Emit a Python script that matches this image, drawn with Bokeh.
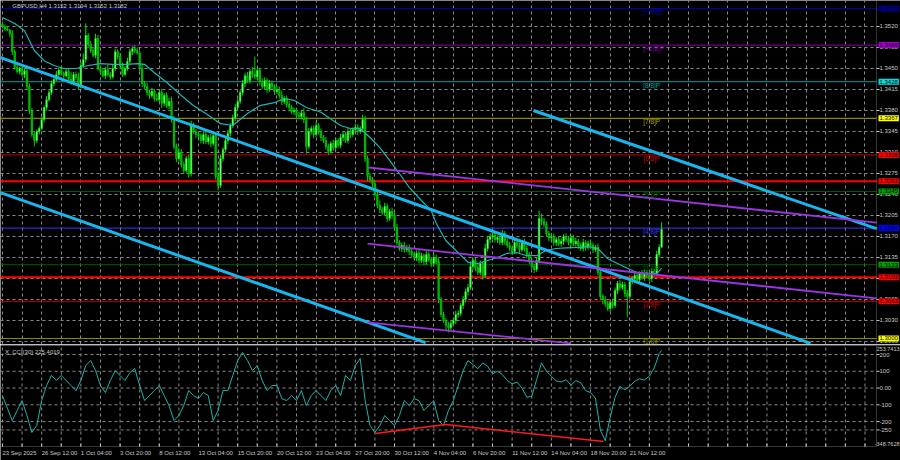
import numpy as np
from bokeh.plotting import figure
from bokeh.layouts import column
from bokeh.models import Range1d, FixedTicker, Label, ColumnDataSource, BoxAnnotation
from bokeh.core.properties import value
from bokeh.embed import file_html
from bokeh.resources import INLINE

FONT = "Liberation Sans"
BASE = 1.3000

# ---------------- price data (H4 bars, pips above 1.3000) ----------------
first_open_pips = 524
close_pips = [
    520, 516, 514, 508, 478, 452, 445, 450, 440, 446,
    420, 380, 340, 330, 345, 350, 365, 385, 398, 410,
    425, 432, 440, 447, 442, 438, 445, 432, 428, 440,
    435, 420, 455, 465, 505, 490, 480, 472, 500, 450,
    445, 438, 448, 440, 436, 450, 478, 470, 455, 440,
    450, 462, 478, 483, 480, 476, 450, 425, 420, 410,
    405, 412, 400, 398, 410, 392, 405, 388, 395, 365,
    320, 300, 310, 290, 280, 300, 275, 355, 345, 340,
    338, 330, 340, 328, 335, 325, 338, 270, 255, 300,
    315, 330, 342, 355, 368, 385, 395, 410, 425, 438,
    430, 445, 440, 436, 447, 428, 420, 430, 415, 425,
    420, 412, 415, 405, 395, 400, 390, 385, 378, 380,
    372, 370, 376, 365, 320, 345, 350, 340, 355, 345,
    335, 330, 320, 312, 325, 318, 330, 322, 335, 340,
    330, 345, 340, 348, 352, 345, 350, 365, 300, 270,
    265, 258, 240, 222, 215, 210, 220, 200, 212, 205,
    185, 160, 150, 155, 148, 152, 145, 140, 135, 142,
    130, 138, 128, 140, 132, 125, 135, 128, 65, 40,
    30, 22, 18, 25, 30, 40, 42, 55, 65, 78,
    85, 120, 130, 118, 110, 125, 105, 150, 165, 170,
    172, 165, 168, 160, 175, 162, 155, 150, 145, 160,
    155, 148, 160, 150, 140, 128, 120, 115, 130, 200,
    195, 190, 175, 168, 170, 160, 165, 158, 162, 170,
    165, 160, 168, 158, 162, 155, 150, 160, 152, 158,
    155, 148, 152, 110, 70, 65, 58, 50, 60, 55,
    80, 92, 85, 90, 75, 70, 95, 100, 105, 98,
    108, 102, 110, 105, 100, 112, 108, 140, 152, 182,
]
wick_up = [
    4, 3, 5, 2, 6, 4, 5, 3, 6, 4,   3, 5, 4, 6, 3, 4, 5, 3, 6, 4,
    5, 3, 6, 4, 8, 3, 5, 6, 12, 4,  5, 8, 6, 10, 20, 4, 6, 5, 8, 6,
    4, 6, 5, 8, 4, 6, 5, 4, 6, 5,   4, 6, 5, 4, 6, 5, 3, 8, 4, 6,
    5, 6, 4, 8, 5, 6, 4, 5, 6, 8,   6, 5, 8, 6, 5, 4, 6, 8, 5, 4,
    5, 4, 6, 5, 4, 6, 5, 4, 8, 6,   4, 5, 6, 4, 5, 6, 5, 4, 6, 5,
    6, 4, 8, 30, 5, 4, 6, 5, 4, 6,  5, 4, 6, 5, 8, 4, 5, 6, 4, 5,
    4, 6, 5, 8, 5, 6, 4, 5, 6, 4,   5, 4, 6, 5, 4, 6, 5, 4, 6, 5,
    4, 6, 5, 4, 6, 5, 4, 8, 6, 5,   6, 4, 5, 6, 8, 4, 6, 5, 4, 6,
    5, 6, 4, 5, 6, 4, 5, 6, 4, 5,   6, 5, 4, 6, 5, 4, 8, 5, 6, 4,
    5, 4, 6, 5, 4, 6, 5, 4, 6, 5,   6, 8, 5, 4, 6, 5, 4, 8, 6, 5,
    5, 6, 4, 5, 6, 4, 5, 6, 4, 5,   6, 5, 4, 6, 5, 4, 6, 5, 4, 13,
    8, 6, 5, 4, 6, 5, 4, 6, 5, 4,   5, 6, 4, 5, 6, 4, 5, 6, 4, 5,
    6, 5, 4, 6, 5, 4, 6, 5, 4, 6,   5, 4, 6, 5, 4, 6, 5, 4, 6, 5,
    4, 6, 5, 4, 6, 5, 4, 6, 5, 12,
]
wick_dn = [
    3, 4, 2, 5, 6, 4, 3, 5, 4, 6,   5, 6, 4, 10, 4, 5, 3, 4, 5, 3,
    4, 5, 3, 6, 4, 5, 3, 4, 5, 6,   4, 5, 3, 4, 5, 6, 4, 3, 5, 4,
    5, 3, 6, 4, 5, 3, 4, 5, 6, 4,   3, 4, 5, 6, 4, 3, 5, 6, 4, 5,
    6, 4, 5, 3, 4, 8, 5, 4, 6, 5,   5, 6, 4, 5, 6, 4, 7, 5, 4, 6,
    4, 5, 6, 4, 5, 6, 4, 5, 8, 4,   5, 4, 6, 5, 4, 6, 5, 4, 5, 6,
    4, 5, 6, 4, 5, 6, 4, 5, 6, 4,   5, 6, 4, 5, 6, 4, 5, 6, 4, 5,
    6, 4, 5, 6, 12, 4, 5, 6, 4, 5,  6, 4, 5, 6, 4, 5, 6, 4, 5, 6,
    4, 5, 6, 4, 5, 6, 4, 5, 6, 8,   5, 6, 4, 5, 6, 4, 5, 6, 4, 5,
    6, 5, 4, 6, 5, 4, 6, 5, 4, 6,   5, 4, 6, 5, 4, 6, 5, 4, 6, 5,
    4, 8, 8, 5, 4, 6, 5, 4, 6, 5,   6, 4, 5, 6, 4, 5, 7, 4, 5, 6,
    4, 5, 6, 4, 5, 6, 4, 5, 6, 4,   5, 6, 4, 5, 6, 4, 5, 6, 4, 5,
    6, 4, 5, 6, 4, 5, 6, 4, 5, 6,   4, 5, 6, 4, 5, 6, 4, 5, 6, 4,
    5, 6, 4, 5, 6, 8, 5, 4, 6, 5,   4, 6, 5, 4, 6, 35, 4, 5, 6, 4,
    5, 4, 6, 5, 4, 6, 5, 4, 5, 0,
]

# moving average (bar index, pips)
ma_bars = [0, 5, 9, 13, 17, 21, 25, 30, 35, 40, 45, 51, 55, 58, 62, 67, 73, 78, 83, 89,
           94, 100, 105, 111, 115, 119, 124, 130, 135, 138, 142, 146, 150, 154, 158, 162,
           166, 171, 175, 177, 181, 186, 190, 194, 198, 202, 206, 210, 214, 218, 222, 226,
           230, 235, 239, 243, 247, 251, 255, 259, 263, 267, 269]
ma_pips = [535, 525, 513, 480, 463, 455, 450, 450, 455, 458, 457, 457, 458, 457, 443, 427,
           405, 388, 375, 358, 355, 375, 388, 393, 400, 397, 385, 377, 363, 355, 350, 350,
           335, 318, 297, 275, 252, 230, 213, 192, 163, 143, 127, 125, 130, 135, 142, 143,
           138, 138, 147, 150, 151, 152, 153, 150, 133, 125, 117, 110, 108, 108, 117]

# CCI(30), one value every 2 bars, plus the current bar
cci_vals = [
    -45, -120, -194, -134, -75, -164, -265, -224, -75, 15, 75, 45, 75, 45, 15, -15, 45, 134, 164, 104,
    15, -27, 45, 104, 75, 45, 92, 116, 15, -75, -45, -15, 15, -45, -104, -194, -164, -104, -15, -45,
    -63, -27, -45, -194, -134, -15, -15, 75, 164, 212, 164, 104, 134, 45, -15, 15, 15, -63, -75, -45,
    -75, -15, -104, -45, -15, -45, -75, -15, 15, -45, 75, 45, 134, 176, -75, -224, -265, -224, -164, -194,
    -224, -164, -75, -104, -63, -75, -134, -104, -75, -194, -224, -134, -75, 15, 104, 164,
    140, 115, 150, 130, 85, 100, 80, 45, 25, 35, 0, -55, -50, 50, 150, 100, 70, 43, 36, 50,
    17, 44, 32, -15, -27, -60, -250, -315, -175, -55, 10, -10, 10, 40, 55, 48, 70, 120, 205,
]
cci_last = 225.4019
cci_max = 253.7413
cci_min = -348.7628
cci_tick_vals = [200, 100, 0, -100, -200, -250]
cci_tick_labels = ["200", "100", "0.00", "-100", "-200", "-250"]

date_labels = ["23 Sep 2025", "26 Sep 12:00", "1 Oct 04:00", "3 Oct 20:00", "8 Oct 12:00",
               "13 Oct 04:00", "15 Oct 20:00", "20 Oct 12:00", "23 Oct 04:00", "27 Oct 20:00",
               "30 Oct 12:00", "4 Nov 04:00", "6 Nov 20:00", "11 Nov 12:00", "14 Nov 04:00",
               "18 Nov 20:00", "21 Nov 12:00"]
price_tick_labels = ["1.3520", "1.3485", "1.3450", "1.3415", "1.3380", "1.3345", "1.3310",
                     "1.3275", "1.3240", "1.3205", "1.3170", "1.3135", "1.3100", "1.3065",
                     "1.3030", "1.2995"]

murrey_prices = [1.3550, 1.3489, 1.3428, 1.3367, 1.3306, 1.3245, 1.3184, 1.3123, 1.3062, 1.3000]
murrey_names = ["[+2/8]P", "[+1/8]P", "[8/8]P", "[7/8]P", "[6/8]P", "[5/8]P", "[4/8]P",
                "[3/8]P", "[2/8]P", "[1/8]P"]
murrey_colors = ["#0000b0", "#8b00a8", "#00a0a0", "#a8a800", "#c80000", "#005a00",
                 "#3a3aff", "#005a00", "#c80000", "#8a8a00"]
sr_prices = [1.3262, 1.3102]
tag_prices = [1.3550, 1.3489, 1.3428, 1.3367, 1.3306, 1.3262, 1.3245, 1.3184, 1.3123,
              1.3102, 1.3062, 1.3000]
tag_colors = ["#000090", "#a000d0", "#00e0e0", "#ffff00", "#ff0000", "#ff0000", "#00a000",
              "#0000ff", "#00a000", "#ff0000", "#ff0000", "#ffff00"]

# trend channels (bar index, price)
chan_upper = ([216.7, 356.7], [1.3380, 1.3183])
chan_mid = ([-0.8, 329.8], [1.3468, 1.2992])
chan_low = ([-0.8, 172.7], [1.3243, 1.2993])
purple_a = ([149.4, 356.7], [1.3285, 1.3193])
purple_b = ([149.0, 356.7], [1.3158, 1.3067])
purple_c = ([149.0, 231.8], [1.3027, 1.2992])
div_bars = [152.2, 180.8, 245.3]
div_vals = [-271, -218, -319]

title_text = "GBPUSD,H4  1.3152 1.3194 1.3152 1.3182"
cci_title = "X_CCI(30) 225.4019"

# ---------------- layout constants ----------------
XMIN, AX_X = -0.8, 356.7          # chart area in bar units (right edge = price scale border)
CHART_PX, FULL_PX = 876, 900
PX_PER_BAR = CHART_PX / (AX_X - XMIN)
XMAX = XMIN + FULL_PX / PX_PER_BAR
TICK = 3 / PX_PER_BAR
CCI_PX = 101                      # height of the CCI plotting box
LABEL_BAND_PX = 14                # time labels under the CCI box
PX_PER_CCI = CCI_PX / (cci_max - cci_min)
CCI_YBOT = cci_min - LABEL_BAND_PX / PX_PER_CCI
GRID = "#8a8a8a"
AX = "#c8c8c8"
BORDER = "#b4b4b4"
FS = "6px"

# ---------------- derived ----------------
n = len(close_pips)
xs = np.arange(n)
c = BASE + np.array(close_pips) / 1e4
o = BASE + np.array([first_open_pips] + close_pips[:-1]) / 1e4
top = np.maximum(o, c)
bot = np.minimum(o, c)
hi = top + np.array(wick_up) / 1e4
lo = bot - np.array(wick_dn) / 1e4
bull = c >= o
src = ColumnDataSource(dict(
    x=xs, top=top, bot=bot, hi=hi, lo=lo,
    fill=np.where(bull, "#b4ffb4", "#00a800"),
    line=np.where(bull, "#00e600", "#00d000"),
))

xticks = list(range(0, 357, 8))
label_ticks = [16 * j for j in range(len(date_labels))]

XR = Range1d(XMIN, XMAX)

# ---------------- main price panel ----------------
p1 = figure(frame_width=FULL_PX, frame_height=344, x_range=XR,
            y_range=Range1d(1.2990, 1.356333),
            output_backend="svg", toolbar_location=None, y_axis_location=None,
            x_axis_location=None, background_fill_color="black", border_fill_color="black",
            min_border_left=0, min_border_right=0, min_border_top=0, min_border_bottom=0)
p1.outline_line_color = None
p1.ygrid.visible = False
p1.xgrid.ticker = FixedTicker(ticks=xticks)
p1.xgrid.grid_line_color = GRID
p1.xgrid.grid_line_dash = "3 3"

price_ticks = [float(s) for s in price_tick_labels]
p1.segment(x0=XMIN, x1=AX_X, y0=price_ticks, y1=price_ticks, line_color=GRID,
           line_dash="3 3", line_width=1)

# Murrey levels and support/resistance lines
for pr, col in zip(murrey_prices, murrey_colors):
    p1.line([XMIN, AX_X], [pr, pr], line_color=col, line_width=1)
for pr in sr_prices:
    p1.line([XMIN, AX_X], [pr, pr], line_color="#ff0000", line_width=2)

# candles
p1.segment("x", "lo", "x", "hi", source=src, line_color="line", line_width=1)
p1.vbar(x="x", width=0.6, top="top", bottom="bot", source=src,
        fill_color="fill", line_color="line", line_width=0.7)

# moving average
p1.line(ma_bars, [BASE + v / 1e4 for v in ma_pips], line_color="#20b4b4", line_width=1.2)

# channels
for ch in (chan_upper, chan_mid, chan_low):
    p1.line(ch[0], ch[1], line_color="#19b6ee", line_width=3)
for pl in (purple_a, purple_b, purple_c):
    p1.line(pl[0], pl[1], line_color="#9a35e0", line_width=1.8)

# Murrey labels
label_bar = 261.5
p1.text(x=[label_bar] * len(murrey_prices), y=murrey_prices, text=murrey_names,
        text_color=murrey_colors, text_font=value(FONT), text_font_size="6.5px",
        text_baseline="top", text_align="left", y_offset=0)

# frame border + price scale
p1.add_layout(BoxAnnotation(right=AX_X, fill_alpha=0, line_color=BORDER, line_width=1))
p1.segment(x0=AX_X, x1=AX_X + TICK, y0=price_ticks, y1=price_ticks, line_color=AX)
p1.text(x=[AX_X] * len(price_ticks), y=price_ticks, text=price_tick_labels, x_offset=3,
        text_color=AX, text_font=value(FONT), text_font_size=FS,
        text_baseline="middle", text_align="left")
p1.text(x=[AX_X] * len(tag_prices), y=tag_prices, text=[f"{v:.4f}" for v in tag_prices],
        x_offset=2, text_color="#000000", text_font=value(FONT), text_font_size=FS,
        text_baseline="middle", text_align="left", background_fill_color=tag_colors,
        padding=1)

p1.add_layout(Label(x=4.0, y=1.356333, y_offset=-2, text=title_text, text_font=FONT,
                    text_font_size=FS, text_color=AX, text_baseline="top", text_align="left"))

# ---------------- CCI panel (box + time scale underneath) ----------------
p2 = figure(frame_width=FULL_PX, frame_height=CCI_PX + LABEL_BAND_PX, x_range=XR,
            y_range=Range1d(CCI_YBOT, cci_max),
            output_backend="svg", toolbar_location=None, y_axis_location=None,
            x_axis_location=None, background_fill_color="black", border_fill_color="black",
            min_border_left=0, min_border_right=0, min_border_top=1, min_border_bottom=0)
p2.outline_line_color = None
p2.xgrid.visible = False
p2.ygrid.visible = False

# grid
p2.segment(x0=xticks, x1=xticks, y0=cci_min, y1=cci_max, line_color=GRID,
           line_dash="3 3", line_width=1)
p2.segment(x0=XMIN, x1=AX_X, y0=cci_tick_vals, y1=cci_tick_vals, line_color=GRID,
           line_dash="3 3", line_width=1)

cci_bars = list(range(0, 2 * len(cci_vals), 2)) + [n - 1]
p2.line(cci_bars, cci_vals + [cci_last], line_color="#20b2aa", line_width=1)
p2.line(div_bars, div_vals, line_color="#ff1a1a", line_width=1.5)

# border, value scale and time scale
p2.add_layout(BoxAnnotation(right=AX_X, bottom=cci_min, fill_alpha=0, line_color=BORDER,
                            line_width=1))
p2.segment(x0=AX_X, x1=AX_X + TICK, y0=cci_tick_vals, y1=cci_tick_vals, line_color=AX)
p2.text(x=[AX_X] * len(cci_tick_vals), y=cci_tick_vals, text=cci_tick_labels, x_offset=3,
        text_color=AX, text_font=value(FONT), text_font_size=FS,
        text_baseline="middle", text_align="left")
p2.text(x=[XMAX, XMAX], y=[cci_max, cci_min], text=[f"{cci_max:.4f}", f"{cci_min:.4f}"],
        x_offset=-1, y_offset=[1, -3], text_color=AX, text_font=value(FONT),
        text_font_size="5.5px", text_baseline=["top", "middle"], text_align="right")

p2.segment(x0=xticks, x1=xticks, y0=cci_min, y1=cci_min + 3 / PX_PER_CCI, line_color=AX)
p2.text(x=label_ticks, y=[cci_min] * len(label_ticks), text=date_labels, y_offset=3,
        text_color=AX, text_font=value(FONT), text_font_size=FS,
        text_baseline="top", text_align="left")

p2.add_layout(Label(x=1, y=cci_max, y_offset=-3, text=cci_title, text_font=FONT,
                    text_font_size=FS, text_color=AX, text_baseline="top", text_align="left"))

layout = column(p1, p2, spacing=0)
html = file_html(layout, INLINE, title="GBPUSD H4")
html = html.replace("<body>", '<body style="margin:0;background:#000000;overflow:hidden">', 1)
open("out.html", "w").write(html)
